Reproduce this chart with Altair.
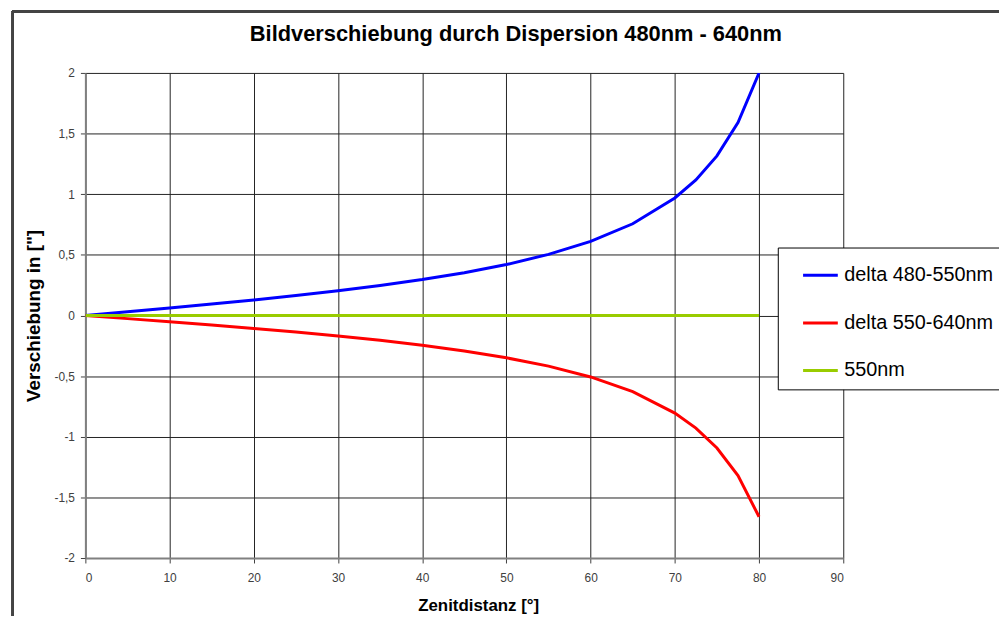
import altair as alt
import pandas as pd

# Zenith distance (degrees)
zenith = [0, 5, 10, 15, 20, 25, 30, 35, 40, 45, 50, 55, 60, 65, 70, 72.5, 75, 77.5, 80]
# Image shift (arcsec)
delta_480_550 = [0, 0.031, 0.062, 0.095, 0.128, 0.164, 0.204, 0.247, 0.296, 0.353,
                 0.420, 0.504, 0.611, 0.756, 0.969, 1.118, 1.316, 1.591, 2.0]
delta_550_640 = [0, -0.026, -0.052, -0.079, -0.107, -0.137, -0.169, -0.205, -0.246, -0.293,
                 -0.349, -0.418, -0.507, -0.628, -0.805, -0.929, -1.093, -1.321, -1.66]
ref_550 = [0] * len(zenith)

series_names = ["delta 480-550nm", "delta 550-640nm", "550nm"]
series_colors = ["#0000FF", "#FF0000", "#99CC00"]

x_ticks = [0, 10, 20, 30, 40, 50, 60, 70, 80, 90]
y_ticks = [-2, -1.5, -1, -0.5, 0, 0.5, 1, 1.5, 2]

rows = []
for name, vals in zip(series_names, [delta_480_550, delta_550_640, ref_550]):
    for z, v in zip(zenith, vals):
        rows.append({"z": z, "v": v, "series": name})
df = pd.DataFrame(rows)

FONT = "Liberation Sans"

lines = alt.Chart(df).mark_line(strokeWidth=3, clip=True).encode(
    x=alt.X("z:Q", scale=alt.Scale(domain=[0, 90], nice=False),
            axis=alt.Axis(values=x_ticks, title="Zenitdistanz [°]",
                          titleFontSize=17, titleX=396, titleAlign="center",
                          titlePadding=14, labelPadding=10)),
    y=alt.Y("v:Q", scale=alt.Scale(domain=[-2, 2], nice=False),
            axis=alt.Axis(values=y_ticks,
                          title='Verschiebung in ["]',
                          titleFontSize=19,
                          labelExpr="replace(toString(datum.value), '.', ',')",
                          titlePadding=11, labelPadding=6)),
    color=alt.Color("series:N",
                    scale=alt.Scale(domain=series_names, range=series_colors),
                    sort=series_names,
                    legend=alt.Legend(title=None, orient="none", legendX=698, legendY=176,
                                      direction="vertical",
                                      strokeColor="#000000", fillColor="#FFFFFF",
                                      padding=9, rowPadding=19,
                                      symbolType="stroke", symbolSize=1225,
                                      symbolOffset=15,
                                      symbolStrokeWidth=3, labelFontSize=20,
                                      labelFont=FONT, labelColor="#000000",
                                      labelOffset=5, labelLimit=300)),
    order=alt.Order("z:Q"),
)

frame = alt.Chart(df).mark_rect(fill=None, stroke="#444444", strokeWidth=2).encode(
    x=alt.value(-73), x2=alt.value(935), y=alt.value(-62), y2=alt.value(600)
)

chart = alt.layer(frame, lines).properties(
    width=764, height=489,
    autosize=alt.AutoSizeParams(type="none"),
    padding={"left": 78, "top": 63, "right": 157, "bottom": 56},
    title=alt.TitleParams("Bildverschiebung durch Dispersion 480nm - 640nm",
                          font=FONT, fontSize=22, fontWeight="bold", color="#000000",
                          anchor="middle", frame="group", dx=52, offset=-36),
).configure_view(
    stroke=None
).configure_axis(
    labelFont=FONT, labelFontSize=12, labelColor="#404040",
    titleFont=FONT, titleFontSize=18, titleFontWeight="bold", titleColor="#000000",
    domainColor="#808080", domainWidth=2, tickColor="#404040", tickSize=5,
    gridColor="#222222", gridWidth=1, grid=True,
)

chart.save("out.html", embed_options={"renderer": "svg", "actions": False})
